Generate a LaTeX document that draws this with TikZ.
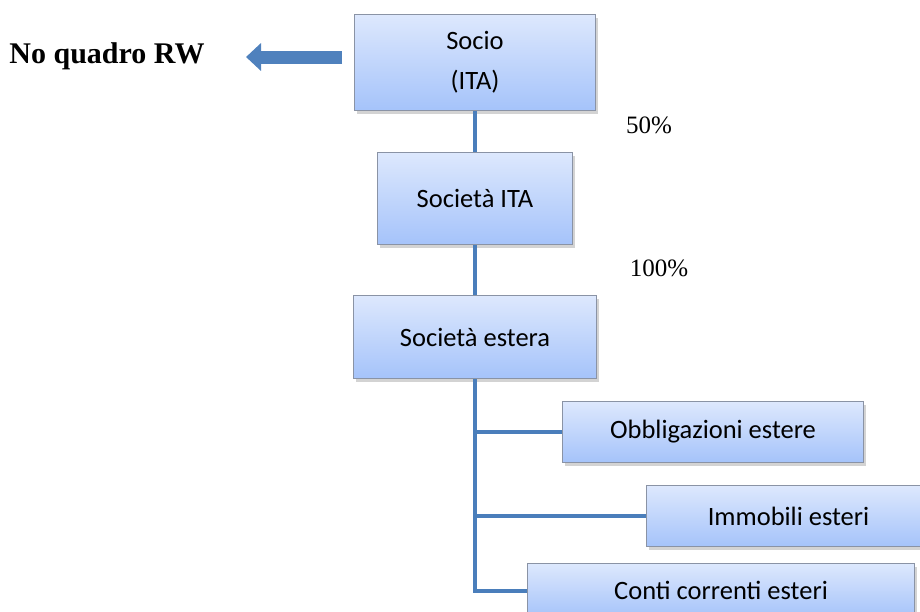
\documentclass[tikz,border=0pt]{standalone}
\usepackage{fontspec}
\setmainfont{Liberation Serif}
\newfontfamily\boxfont{Carlito}
\usetikzlibrary{shadows,arrows.meta}
\definecolor{linkblue}{HTML}{4A7EBB}
\definecolor{arrowblue}{HTML}{4F81BD}
\definecolor{boxtop}{HTML}{DDE8FD}
\definecolor{boxbot}{HTML}{A5C3FA}
\definecolor{boxline}{HTML}{8A93A5}
\tikzset{
  orgbox/.style={draw=boxline, line width=1pt, top color=boxtop, bottom color=boxbot,
    drop shadow={shadow xshift=2pt, shadow yshift=-3pt, opacity=0.35},
    font=\boxfont\fontsize{26.5}{42}\selectfont, align=center, inner sep=0pt, anchor=north west},
  link/.style={draw=linkblue, line width=4pt},
  pct/.style={font=\fontsize{25}{28}\selectfont},
}
\begin{document}
\begin{tikzpicture}[x=1pt,y=-1pt]
\useasboundingbox (0,0) rectangle (920,611);
\begin{scope}
\clip (0,0) rectangle (920,611);
\node[orgbox, minimum width=241pt, minimum height=96pt] (socio) at (354,14) {Socio\\[-2pt](ITA)};
\node[orgbox, minimum width=195pt, minimum height=92pt] (ita) at (377,152) {Società ITA};
\node[orgbox, minimum width=243pt, minimum height=83pt] (estera) at (353,295) {Società estera};
\node[orgbox, minimum width=301pt, minimum height=61pt] (obb) at (562,401) {Obbligazioni estere};
\node[orgbox, minimum width=284pt, minimum height=61pt] (imm) at (646,485) {Immobili esteri};
\node[orgbox, minimum width=387pt, minimum height=54pt] (conti) at (527,563) {Conti correnti esteri};
\draw[link] (socio.south) -- (ita.north);
\draw[link] (ita.south) -- (estera.north);
\draw[link] (estera.south) -- (estera.south |- conti.west) -- (conti.west);
\draw[link] (estera.south |- obb.west) -- (obb.west);
\draw[link] (estera.south |- imm.west) -- (imm.west);
\end{scope}
\node[pct] (p50) at (649,125) {50\%};
\node[pct] (p100) at (659,268) {100\%};
\node[font=\bfseries\fontsize{30}{33}\selectfont] (rw) at (107,56) {No quadro RW};
\coordinate (arrowend) at (246,57);
\draw[arrowblue, line width=13pt, -{Triangle[length=15pt, width=27pt]}] (socio.west |- arrowend) ++(-12,0) -- (arrowend);
\end{tikzpicture}
\end{document}
